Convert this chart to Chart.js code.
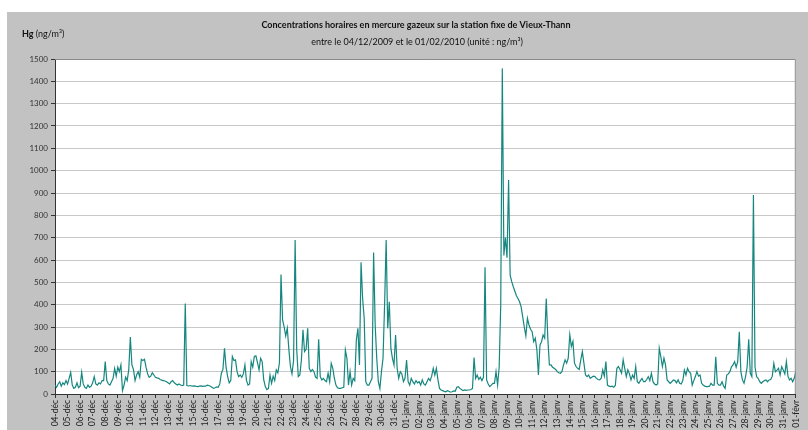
<!DOCTYPE html>
<html>
<head>
<meta charset="utf-8">
<script src="https://cdn.jsdelivr.net/npm/chart.js@4.4.1/dist/chart.umd.min.js"></script>
<style>
  html, body { margin: 0; padding: 0; background: #ffffff; }
  #wrap { width: 808px; height: 430px; }
</style>
</head>
<body>
<div id="wrap"><canvas id="c" width="808" height="430"></canvas></div>
<script>
// Hourly gaseous mercury at the Vieux-Thann fixed station, read every 3 hours
const STEP_HOURS = 3;

const titleText = 'Concentrations horaires en mercure gazeux sur la station fixe de Vieux-Thann';
const subtitleText = 'entre le 04/12/2009 et le 01/02/2010 (unité : ng/m³)';
const unitBold = 'Hg';
const unitText = '(ng/m³)';

// one tick per day, 04-déc (0) .. 01-févr (59)
const dayLabels = [
  '04-déc','05-déc','06-déc','07-déc','08-déc','09-déc','10-déc','11-déc','12-déc','13-déc',
  '14-déc','15-déc','16-déc','17-déc','18-déc','19-déc','20-déc','21-déc','22-déc','23-déc',
  '24-déc','25-déc','26-déc','27-déc','28-déc','29-déc','30-déc','31-déc',
  '01-janv','02-janv','03-janv','04-janv','05-janv','06-janv','07-janv','08-janv','09-janv','10-janv',
  '11-janv','12-janv','13-janv','14-janv','15-janv','16-janv','17-janv','18-janv','19-janv','20-janv',
  '21-janv','22-janv','23-janv','24-janv','25-janv','26-janv','27-janv','28-janv','29-janv','30-janv',
  '31-janv','01-févr'
];

const yTicks = { min: 0, max: 1500, step: 100 };

// Hg in ng/m3, 8 readings per day (00h, 03h, ... 21h)
const hg = [
  40, 30, 45, 55, 35, 50, 42, 60,        // 04-déc
  45, 70, 97, 40, 25, 30, 50, 28,        // 05-déc
  35, 97, 45, 30, 25, 40, 30, 35,        // 06-déc
  50, 78, 45, 40, 50, 45, 60, 60,        // 07-déc
  145, 60, 45, 40, 55, 70, 115, 80,      // 08-déc
  120, 100, 130, 15, 40, 75, 60, 110,    // 09-déc
  255, 130, 110, 60, 85, 100, 75, 155,   // 10-déc
  150, 155, 120, 90, 75, 80, 95, 85,     // 11-déc
  75, 72, 70, 65, 62, 60, 58, 55,        // 12-déc
  50, 45, 55, 60, 50, 45, 40, 45,        // 13-déc
  40, 38, 40, 405, 38, 36, 38, 36,       // 14-déc
  35, 36, 34, 33, 35, 36, 34, 35,        // 15-déc
  35, 40, 38, 35, 30, 25, 28, 32,        // 16-déc
  30, 45, 93, 110, 205, 120, 78, 50,     // 17-déc
  60, 168, 150, 153, 100, 78, 85, 75,    // 18-déc
  90, 130, 60, 40, 45, 145, 120, 168,    // 19-déc
  171, 140, 108, 160, 145, 63, 33, 20,   // 20-déc
  25, 85, 48, 80, 60, 108, 95, 140,      // 21-déc
  535, 333, 300, 260, 295, 200, 123, 90, // 22-déc
  150, 690, 200, 78, 85, 153, 287, 190,  // 23-déc
  200, 294, 115, 100, 110, 100, 75, 70,  // 24-déc
  245, 78, 63, 70, 60, 55, 93, 55,       // 25-déc
  137, 115, 70, 40, 28, 25, 25, 28,      // 26-déc
  30, 197, 160, 40, 100, 40, 70, 60,     // 27-déc
  242, 294, 130, 590, 428, 339, 55, 40,  // 28-déc
  40, 55, 70, 634, 309, 160, 55, 25,     // 29-déc
  100, 160, 400, 690, 294, 413, 205, 160,// 30-déc
  130, 264, 115, 70, 100, 90, 55, 70,    // 31-déc
  152, 55, 40, 70, 55, 45, 60, 50,       // 01-janv
  55, 40, 63, 45, 40, 55, 70, 60,        // 02-janv
  80, 115, 85, 115, 63, 25, 18, 15,      // 03-janv
  12, 10, 15, 12, 8, 10, 14, 12,         // 04-janv
  30, 33, 25, 20, 15, 18, 16, 18,        // 05-janv
  18, 20, 25, 163, 70, 85, 65, 75,       // 06-janv
  60, 75, 567, 63, 45, 33, 40, 48,       // 07-janv
  48, 100, 40, 120, 398, 1458, 620, 700, // 08-janv
  610, 958, 532, 503, 480, 460, 440, 428,// 09-janv
  413, 390, 345, 300, 260, 339, 309, 290,// 10-janv
  279, 234, 250, 200, 85, 219, 234, 264, // 11-janv
  250, 428, 249, 130, 130, 120, 115, 110,// 12-janv
  100, 95, 93, 100, 130, 153, 138, 160,  // 13-janv
  265, 213, 235, 138, 123, 115, 110, 153,// 14-janv
  190, 138, 85, 78, 85, 70, 75, 80,      // 15-janv
  78, 70, 65, 63, 70, 108, 80, 145,      // 16-janv
  40, 35, 33, 35, 30, 38, 115, 123,      // 17-janv
  110, 93, 153, 115, 78, 108, 90, 63,    // 18-janv
  85, 70, 123, 55, 48, 60, 70, 55,       // 19-janv
  55, 65, 78, 60, 93, 55, 45, 40,        // 20-janv
  45, 205, 168, 123, 160, 130, 63, 55,   // 21-janv
  48, 55, 63, 60, 50, 63, 48, 45,        // 22-janv
  60, 107, 85, 115, 100, 93, 40, 60,     // 23-janv
  78, 100, 80, 85, 48, 40, 35, 33,       // 24-janv
  33, 35, 48, 40, 40, 167, 48, 40,       // 25-janv
  40, 55, 35, 25, 85, 90, 100, 122,      // 26-janv
  130, 145, 120, 145, 279, 100, 63, 48,  // 27-janv
  78, 122, 245, 93, 78, 891, 122, 78,    // 28-janv
  70, 55, 48, 55, 60, 63, 55, 63,        // 29-janv
  65, 80, 137, 100, 107, 115, 85, 122,   // 30-janv
  107, 90, 145, 80, 63, 70, 55, 70,      // 31-janv
  100                                    // 01-févr 00h
];

const points = hg.map((v, i) => ({ x: i * STEP_HOURS / 24, y: v }));

const FONT = 'Lato, "DejaVu Sans", sans-serif';
const PANEL = '#c2c2c2';

// grey panel, white plot area, plot frame and the heading texts
const framePlugin = {
  id: 'frame',
  beforeDraw(chart) {
    const { ctx, chartArea: a, width, height } = chart;
    ctx.save();
    ctx.fillStyle = '#ffffff';
    ctx.fillRect(0, 0, width, height);
    ctx.fillStyle = PANEL;
    ctx.fillRect(7, 12, width - 7, height - 12);
    ctx.fillStyle = '#ffffff';
    ctx.fillRect(a.left, a.top, a.right - a.left, a.bottom - a.top);
    ctx.restore();
  },
  afterDraw(chart) {
    const { ctx, chartArea: a } = chart;
    ctx.save();
    ctx.strokeStyle = '#8a8a8a';
    ctx.lineWidth = 1;
    ctx.beginPath();
    ctx.moveTo(a.left, a.top + 0.5);
    ctx.lineTo(a.right - 0.5, a.top + 0.5);
    ctx.lineTo(a.right - 0.5, a.bottom);
    ctx.stroke();

    ctx.fillStyle = '#111111';
    ctx.textBaseline = 'middle';
    ctx.textAlign = 'center';
    ctx.font = 'bold 9px ' + FONT;
    ctx.fillText(titleText, 416, 25);
    ctx.font = '9px ' + FONT;
    ctx.fillText(subtitleText, 417, 42);

    ctx.textAlign = 'left';
    ctx.font = 'bold 9px ' + FONT;
    ctx.fillText(unitBold, 22, 34);
    const w = ctx.measureText(unitBold + ' ').width;
    ctx.font = '9px ' + FONT;
    ctx.fillText(unitText, 22 + w, 34);
    ctx.restore();
  }
};

new Chart(document.getElementById('c'), {
  type: 'line',
  data: {
    datasets: [{
      data: points,
      borderColor: '#16877f',
      borderWidth: 1.2,
      pointRadius: 0,
      tension: 0,
      fill: false
    }]
  },
  options: {
    responsive: false,
    animation: false,
    devicePixelRatio: 1,
    layout: { padding: { left: 7, top: 59, right: 11, bottom: 0 } },
    plugins: {
      legend: { display: false },
      tooltip: { enabled: false },
      title: { display: false }
    },
    scales: {
      x: {
        type: 'linear',
        min: 0,
        max: dayLabels.length - 1,
        ticks: {
          stepSize: 1,
          autoSkip: false,
          minRotation: 90,
          maxRotation: 90,
          padding: 2,
          color: '#222222',
          font: { family: FONT, size: 8.5 },
          callback: v => dayLabels[v]
        },
        grid: { drawOnChartArea: false, drawTicks: true, tickLength: 4, tickColor: '#333333', color: '#333333' },
        border: { color: '#333333', width: 1 },
        afterFit: s => { s.height = 36; }
      },
      y: {
        min: yTicks.min,
        max: yTicks.max,
        ticks: {
          stepSize: yTicks.step,
          padding: 3,
          color: '#333333',
          font: { family: FONT, size: 8 },
          callback: v => String(v)
        },
        grid: { color: '#c8c8c8', tickColor: '#333333', tickLength: 4 },
        border: { color: '#333333', width: 1 },
        afterFit: s => { s.width = 48; }
      }
    }
  },
  plugins: [framePlugin]
});
</script>
</body>
</html>
